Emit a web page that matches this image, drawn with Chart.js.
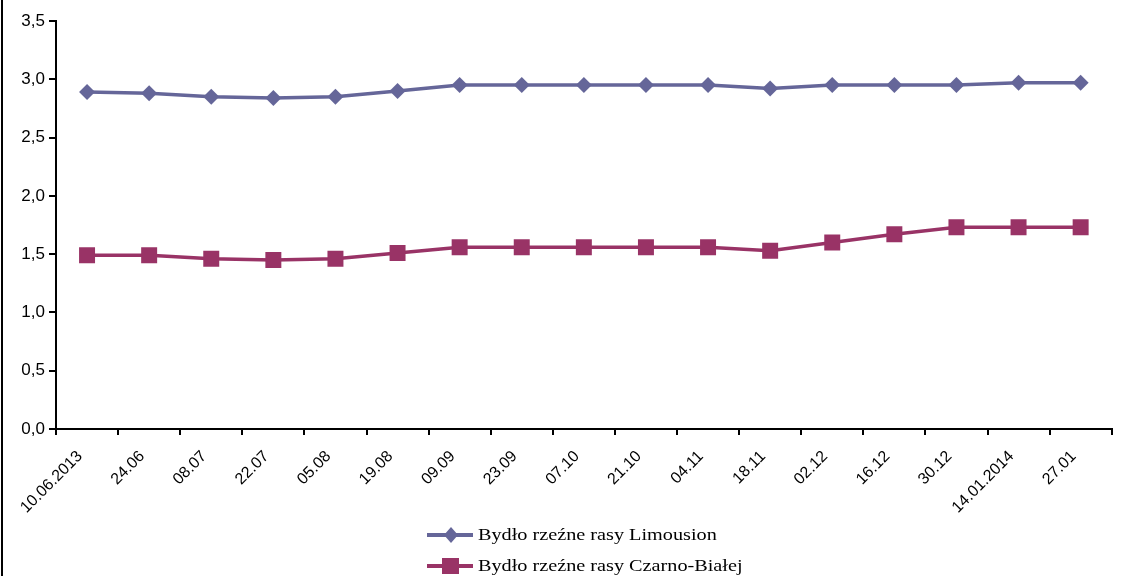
<!DOCTYPE html>
<html>
<head>
<meta charset="utf-8">
<script src="https://cdn.jsdelivr.net/npm/chart.js@4.4.0/dist/chart.umd.min.js"></script>
<style>
  body { margin: 0; background: #fff; }
  #wrap { width: 1123px; height: 576px; position: relative; }
</style>
</head>
<body>
<div id="wrap"><canvas id="canvas"></canvas></div>
<script>
const labels = ["10.06.2013", "24.06", "08.07", "22.07", "05.08", "19.08", "09.09", "23.09",
    "07.10", "21.10", "04.11", "18.11", "02.12", "16.12", "30.12", "14.01.2014", "27.01"];

const limousion = [2.89, 2.88, 2.85, 2.84, 2.85, 2.90, 2.95, 2.95, 2.95, 2.95, 2.95, 2.92, 2.95, 2.95, 2.95, 2.97, 2.97];
const czarnoBiala = [1.49, 1.49, 1.46, 1.45, 1.46, 1.51, 1.56, 1.56, 1.56, 1.56, 1.56, 1.53, 1.60, 1.67, 1.73, 1.73, 1.73];

const names = ["Bydło rzeźne rasy Limousion", "Bydło rzeźne rasy Czarno-Białej"];
const colors = ["#656699", "#993366"];

// left frame line + legend under the chart
const extras = {
    id: "extras",
    afterDraw(chart) {
        const ctx = chart.ctx;
        ctx.save();
        ctx.fillStyle = "#000";
        ctx.fillRect(1, 0, 2, chart.height);

        const rows = [535, 566];
        for (let i = 0; i < 2; i++) {
            const y = rows[i];
            ctx.strokeStyle = colors[i];
            ctx.fillStyle = colors[i];
            ctx.lineWidth = 4;
            ctx.beginPath();
            ctx.moveTo(427, y);
            ctx.lineTo(473, y);
            ctx.stroke();
            ctx.beginPath();
            if (i == 0) {
                ctx.moveTo(451, y - 8);
                ctx.lineTo(458, y);
                ctx.lineTo(451, y + 8);
                ctx.lineTo(444, y);
                ctx.closePath();
            } else {
                ctx.rect(442, y - 8, 17, 16);
            }
            ctx.fill();

            // text is a bit wider than a plain serif font in the picture
            ctx.save();
            ctx.translate(478, y + 1);
            ctx.scale(1.19, 1);
            ctx.fillStyle = "#000";
            ctx.font = "17px 'Liberation Serif', 'Times New Roman', serif";
            ctx.textBaseline = "middle";
            ctx.textAlign = "left";
            ctx.fillText(names[i], 0, 0);
            ctx.restore();
        }
        ctx.restore();
    }
};

const myChart = new Chart(document.getElementById("canvas"), {
    type: "line",
    data: {
        labels: labels,
        datasets: [{
            label: names[0],
            data: limousion,
            borderColor: colors[0],
            backgroundColor: colors[0],
            borderWidth: 3.5,
            pointStyle: "rectRot",
            pointRadius: 8,
            pointBorderWidth: 0,
            tension: 0
        }, {
            label: names[1],
            data: czarnoBiala,
            borderColor: colors[1],
            backgroundColor: colors[1],
            borderWidth: 3.5,
            pointStyle: "rect",
            pointRadius: 11.3,
            pointBorderWidth: 0,
            tension: 0
        }]
    },
    options: {
        responsive: true,
        maintainAspectRatio: false,
        animation: false,
        layout: { padding: { left: 0, top: 21, right: 5, bottom: 0 } },
        plugins: {
            legend: { display: false },
            tooltip: { enabled: false }
        },
        scales: {
            x: {
                offset: true,
                grid: { offset: true, drawOnChartArea: false, color: "#000", lineWidth: 2, tickLength: 6 },
                border: { color: "#000", width: 2 },
                ticks: {
                    color: "#000",
                    font: { family: "'Liberation Sans', Arial, sans-serif", size: 16 },
                    autoSkip: false,
                    minRotation: 45,
                    maxRotation: 45,
                    labelOffset: -7,
                    padding: 12
                },
                afterFit(scale) { scale.height = 147; }
            },
            y: {
                min: 0,
                max: 3.5,
                grid: { drawOnChartArea: false, color: "#000", lineWidth: 2, tickLength: 7 },
                border: { color: "#000", width: 2 },
                ticks: {
                    stepSize: 0.5,
                    color: "#000",
                    padding: 4,
                    font: { family: "'Liberation Sans', Arial, sans-serif", size: 17 },
                    callback: v => v.toFixed(1).replace(".", ",")
                },
                afterFit(scale) { scale.width = 56; }
            }
        }
    },
    plugins: [extras]
});
</script>
</body>
</html>
